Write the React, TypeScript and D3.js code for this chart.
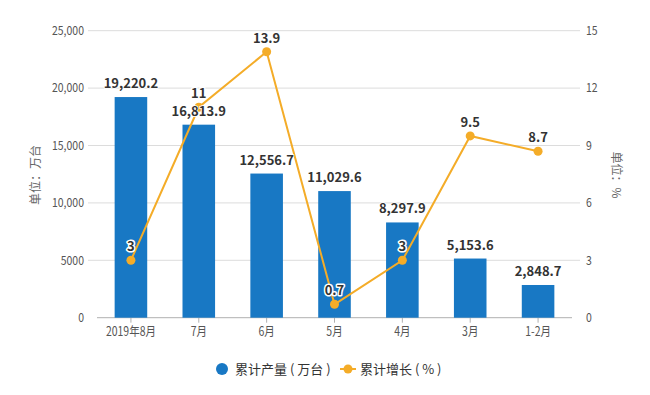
import React from "react";
import * as d3 from "d3";

const categories = ["2019年8月", "7月", "6月", "5月", "4月", "3月", "1-2月"];
const production = [19220.2, 16813.9, 12556.7, 11029.6, 8297.9, 5153.6, 2848.7];
const growth = [3, 11, 13.9, 0.7, 3, 9.5, 8.7];
const leftTicks = [0, 5000, 10000, 15000, 20000, 25000];
const rightTicks = [0, 3, 6, 9, 12, 15];

const W = 650, H = 395;
const M = { left: 97, right: 572, top: 30.7, bottom: 317.7 };
const BLUE = "#1878c4";
const ORANGE = "#f4ac28";
const FONT = "'Noto Sans CJK SC', 'Noto Sans', sans-serif";
const SQ = 0.84;

export default function App() {
  const x = d3.scaleBand<string>().domain(categories).range([M.left, M.right]).paddingInner(0.52).paddingOuter(0.26);
  const xc = (c: string) => (x(c) as number) + x.bandwidth() / 2;
  const yL = d3.scaleLinear().domain([0, 25000]).range([M.bottom, M.top]);
  const yR = d3.scaleLinear().domain([0, 15]).range([M.bottom, M.top]);
  const fmtL = (v: number) => (v >= 10000 ? d3.format(",")(v) : String(v));
  const fmtBar = d3.format(",.1f");
  const line = d3.line<number>().x((_, i) => xc(categories[i])).y((d) => yR(d));

  return (
    <svg width={W} height={H} style={{ position: "absolute", left: 0, top: 0, fontFamily: FONT }}>
      <rect width={W} height={H} fill="#fff" />
      {leftTicks.map((t) => (
        t > 0 ? <line key={t} x1={88} x2={580} y1={yL(t)} y2={yL(t)} stroke="#dcdcdc" strokeWidth={1} /> : null
      ))}
      <line x1={M.left} x2={M.right} y1={M.bottom} y2={M.bottom} stroke="#b0b0b0" strokeWidth={1} />
      {categories.map((c) => (
        <line key={c} x1={xc(c)} x2={xc(c)} y1={M.bottom} y2={M.bottom + 5} stroke="#b0b0b0" />
      ))}
      {leftTicks.map((t) => (
        <g key={t} transform={`translate(84,${yL(t)}) scale(${SQ},1)`}>
          <text dy="0.35em" textAnchor="end" fontSize={12.5} fill="#555">{fmtL(t)}</text>
        </g>
      ))}
      {rightTicks.map((t) => (
        <g key={t} transform={`translate(586,${yR(t)}) scale(${SQ},1)`}>
          <text dy="0.35em" textAnchor="start" fontSize={12.5} fill="#555">{t}</text>
        </g>
      ))}
      {categories.map((c) => (
        <g key={c} transform={`translate(${xc(c)},332) scale(${SQ},1)`}>
          <text dy="0.35em" textAnchor="middle" fontSize={12.5} fill="#555">{c}</text>
        </g>
      ))}
      <text transform={`translate(40,175) rotate(-90)`} textAnchor="middle" fontSize={12} fill="#666">单位：万台</text>
      <text transform={`translate(612,175) rotate(90)`} textAnchor="middle" fontSize={12} fill="#666">单位：%</text>
      {production.map((v, i) => (
        <rect key={i} x={x(categories[i])} y={yL(v)} width={x.bandwidth()} height={M.bottom - yL(v)} fill={BLUE} />
      ))}
      <path d={line(growth) || ""} fill="none" stroke={ORANGE} strokeWidth={2} />
      {growth.map((v, i) => (
        <circle key={i} cx={xc(categories[i])} cy={yR(v)} r={4.5} fill={ORANGE} />
      ))}
      {production.map((v, i) => (
        <text key={i} x={xc(categories[i])} y={yL(v) - 9} textAnchor="middle" fontSize={13} fontWeight="bold" fill="#333" stroke="#fff" strokeWidth={1.5} paintOrder="stroke">{fmtBar(v)}</text>
      ))}
      {growth.map((v, i) => (
        <text key={i} x={xc(categories[i])} y={yR(v) - 9} textAnchor="middle" fontSize={13} fontWeight="bold" fill="#333" stroke="#fff" strokeWidth={3} paintOrder="stroke" strokeLinejoin="round">{String(v)}</text>
      ))}
      <g>
        <circle cx={222} cy={369} r={6} fill={BLUE} />
        <text x={235} y={369} dy="0.35em" fontSize={13} fill="#333">累计产量 ( 万台 )</text>
        <line x1={340} x2={356} y1={369} y2={369} stroke={ORANGE} strokeWidth={2} />
        <circle cx={348} cy={369} r={4.5} fill={ORANGE} />
        <text x={360} y={369} dy="0.35em" fontSize={13} fill="#333">累计增长 ( % )</text>
      </g>
    </svg>
  );
}
